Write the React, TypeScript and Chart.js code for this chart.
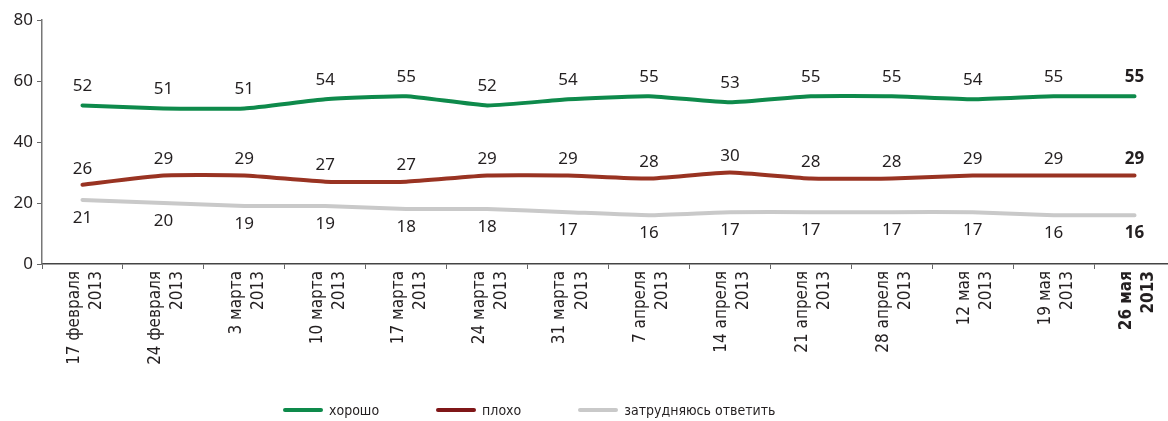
import React, { useEffect, useRef } from "react";
import { Chart, registerables } from "chart.js";

Chart.register(...registerables);

const categories: string[][] = [
  ["17 февраля", "2013"],
  ["24 февраля", "2013"],
  ["3 марта", "2013"],
  ["10 марта", "2013"],
  ["17 марта", "2013"],
  ["24 марта", "2013"],
  ["31 марта", "2013"],
  ["7 апреля", "2013"],
  ["14 апреля", "2013"],
  ["21 апреля", "2013"],
  ["28 апреля", "2013"],
  ["12 мая", "2013"],
  ["19 мая", "2013"],
  ["26 мая", "2013"],
];

const good: number[] = [52, 51, 51, 54, 55, 52, 54, 55, 53, 55, 55, 54, 55, 55];
const bad: number[] = [26, 29, 29, 27, 27, 29, 29, 28, 30, 28, 28, 29, 29, 29];
const unsure: number[] = [21, 20, 19, 19, 18, 18, 17, 16, 17, 17, 17, 17, 16, 16];

const seriesNames = ["хорошо", "плохо", "затрудняюсь ответить"];
const seriesColors = ["#0e8a4b", "#993322", "#c9c9c9"];
const legendColors = ["#0e8a4b", "#7f1618", "#c9c9c9"];
const yTicks = [0, 20, 40, 60, 80];

const NARROW = '"Liberation Sans Narrow", "DejaVu Sans Condensed", "Noto Sans", sans-serif';
const NUM = '"Noto Sans", "DejaVu Sans", sans-serif';
const TEXT = "#231f20";

const labelOffsets = [-19, -16, 18];

const dataLabels = {
  id: "dataLabels",
  afterDatasetsDraw(chart: any) {
    const ctx = chart.ctx;
    ctx.save();
    ctx.textAlign = "center";
    ctx.textBaseline = "middle";
    ctx.fillStyle = TEXT;
    chart.data.datasets.forEach((ds: any, i: number) => {
      const meta = chart.getDatasetMeta(i);
      meta.data.forEach((pt: any, j: number) => {
        const last = j === meta.data.length - 1;
        ctx.font = `${last ? "bold " : ""}17px ${NUM}`;
        ctx.fillText(String(ds.data[j]), pt.x, pt.y + labelOffsets[i]);
      });
    });
    ctx.restore();
  },
};

export default function App() {
  const ref = useRef<HTMLCanvasElement | null>(null);
  useEffect(() => {
    if (!ref.current) return;
    const chart = new Chart(ref.current, {
      type: "line",
      data: {
        labels: categories,
        datasets: [good, bad, unsure].map((d, i) => ({
          label: seriesNames[i],
          data: d,
          borderColor: seriesColors[i],
          backgroundColor: seriesColors[i],
          borderWidth: 4,
          pointRadius: 0,
          tension: 0.15,
          borderCapStyle: "round" as const,
        })),
      },
      options: {
        animation: false,
        responsive: false,
        layout: { padding: { top: 20, right: 8, left: 0, bottom: 27 } },
        plugins: {
          tooltip: { enabled: false },
          legend: { display: false },
        },
        scales: {
          x: {
            offset: true,
            grid: {
              drawOnChartArea: false,
              drawTicks: true,
              tickLength: 5,
              color: "#666",
              offset: true,
            },
            border: { color: "#444", width: 1.5 },
            ticks: {
              maxRotation: 90,
              minRotation: 90,
              autoSkip: false,
              color: TEXT,
              padding: 2,
              labelOffset: -8,
              font: (c: any) => ({
                family: NARROW,
                size: 17,
                weight: c.index === categories.length - 1 ? "bold" : "normal",
                lineHeight: 1.3,
              }),
            },
            afterFit: (s: any) => {
              s.height = 130;
            },
          },
          y: {
            min: 0,
            max: 80,
            afterBuildTicks: (s: any) => {
              s.ticks = yTicks.map((v) => ({ value: v }));
            },
            grid: { drawOnChartArea: false, drawTicks: true, tickLength: 5, color: "#666" },
            border: { color: "#777", width: 1.5 },
            ticks: { color: TEXT, padding: 4, font: { family: NUM, size: 17 } },
            afterFit: (s: any) => {
              s.width = 42;
            },
          },
        },
      },
      plugins: [dataLabels],
    });
    return () => chart.destroy();
  }, []);
  return (
    <div style={{ position: "fixed", left: 0, top: 0, width: 1168, height: 421, overflow: "hidden", background: "#fff" }}>
      <canvas ref={ref} width={1183} height={421} style={{ display: "block" }} />
      <div
        style={{
          position: "absolute",
          left: 283,
          top: 400,
          height: 20,
          display: "flex",
          alignItems: "center",
          gap: 57,
          fontFamily: NARROW,
          fontSize: 14,
          color: TEXT,
          whiteSpace: "nowrap",
        }}
      >
        {seriesNames.map((n, i) => (
          <div key={n} style={{ display: "flex", alignItems: "center" }}>
            <span style={{ display: "inline-block", width: 40, height: 4, borderRadius: 2, background: legendColors[i], marginRight: 6 }} />
            <span>{n}</span>
          </div>
        ))}
      </div>
    </div>
  );
}
